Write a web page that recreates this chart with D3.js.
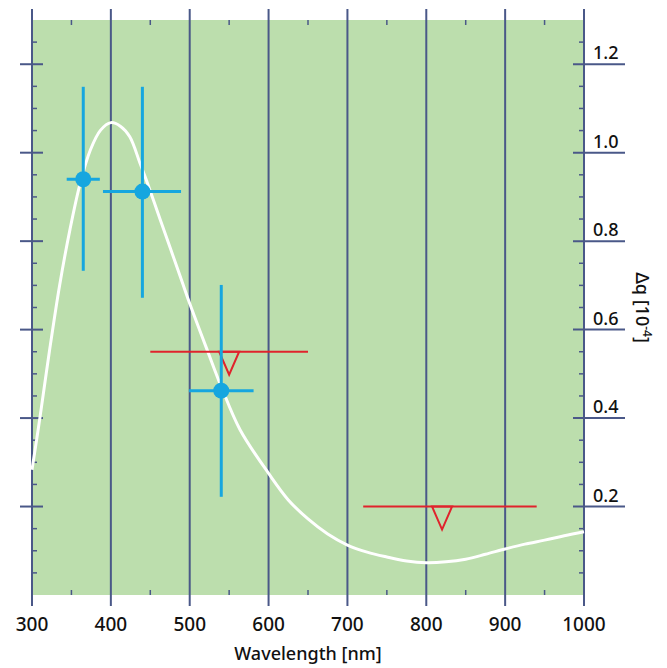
<!DOCTYPE html>
<html>
<head>
<meta charset="utf-8">
<script src="https://cdn.jsdelivr.net/npm/d3@7"></script>
<style>
  body { margin: 0; background: #fff; }
  svg text { font-family: "Noto Sans", "Open Sans", sans-serif; fill: #111; }
</style>
</head>
<body>
<div id="chart"></div>
<script>
const width = 667;
const height = 668;

const xDomain = [300, 1000];
const yDomain = [0, 1.3];

const xMajorTicks = [300, 400, 500, 600, 700, 800, 900, 1000];
const xMinorTicks = [350, 450, 550, 650, 750, 850, 950];
const yMajorTicks = [0.2, 0.4, 0.6, 0.8, 1.0, 1.2];
const yMinorTicks = [0.05, 0.1, 0.15, 0.25, 0.3, 0.35, 0.45, 0.5, 0.55, 0.65, 0.7, 0.75, 0.85, 0.9, 0.95, 1.05, 1.1, 1.15, 1.25];

// model curve
const curveWavelength = [300, 310, 322, 335, 348, 361, 374, 387, 400, 412, 424, 437, 445, 460, 475, 490, 500, 523, 540, 564, 600, 625, 650, 675, 700, 725, 750, 775, 800, 825, 850, 875, 900, 925, 950, 975, 1000];
const curveValue = [0.283, 0.40, 0.55, 0.70, 0.825, 0.93, 1.006, 1.051, 1.068, 1.06, 1.036, 0.976, 0.938, 0.862, 0.786, 0.71, 0.659, 0.55, 0.471, 0.373, 0.275, 0.215, 0.172, 0.138, 0.113, 0.097, 0.086, 0.077, 0.073, 0.075, 0.081, 0.092, 0.104, 0.115, 0.124, 0.134, 0.143];

// measurements
const measWavelength = [365, 440, 540];
const measValue = [0.94, 0.912, 0.462];
const measXLow = [344, 390, 499];
const measXHigh = [386, 489, 581];
const measYLow = [0.733, 0.672, 0.222];
const measYHigh = [1.149, 1.149, 0.701];

// upper limits
const limitWavelength = [550, 820];
const limitValue = [0.55, 0.2];
const limitXLow = [450, 720];
const limitXHigh = [650, 940];

const margin = {top: 20, right: 83, bottom: 73, left: 32};
const plotWidth = width - margin.left - margin.right;
const plotHeight = height - margin.top - margin.bottom;

const lineColor = "#4a5888";
const green = "#bcdead";
const blue = "#16a6df";
const red = "#e0232c";

const x = d3.scaleLinear().domain(xDomain).range([margin.left, margin.left + plotWidth]);
const y = d3.scaleLinear().domain(yDomain).range([margin.top + plotHeight, margin.top]);

const svg = d3.select("#chart")
  .append("svg")
  .attr("width", width)
  .attr("height", height);

svg.append("rect")
  .attr("x", x(300))
  .attr("y", y(1.3))
  .attr("width", x(1000) - x(300))
  .attr("height", y(0) - y(1.3))
  .attr("fill", green);

// vertical grid / axis lines
svg.append("g")
  .selectAll("line")
  .data(xMajorTicks)
  .enter()
  .append("line")
  .attr("x1", d => x(d))
  .attr("x2", d => x(d))
  .attr("y1", y(1.3) - 11)
  .attr("y2", y(0) + 11)
  .attr("stroke", lineColor)
  .attr("stroke-width", 2);

// minor x ticks, top and bottom
const xMinor = svg.append("g");
xMinor.selectAll(".top")
  .data(xMinorTicks)
  .enter()
  .append("line")
  .attr("x1", d => x(d))
  .attr("x2", d => x(d))
  .attr("y1", y(1.3))
  .attr("y2", y(1.3) + 5)
  .attr("stroke", lineColor)
  .attr("stroke-width", 1.5);
xMinor.selectAll(".bottom")
  .data(xMinorTicks)
  .enter()
  .append("line")
  .attr("x1", d => x(d))
  .attr("x2", d => x(d))
  .attr("y1", y(0) - 5)
  .attr("y2", y(0))
  .attr("stroke", lineColor)
  .attr("stroke-width", 1.5);

// y ticks, both sides
const yTicks = svg.append("g");
yTicks.selectAll(".lmaj")
  .data(yMajorTicks)
  .enter()
  .append("line")
  .attr("x1", x(300) - 12)
  .attr("x2", x(300) + 11)
  .attr("y1", d => y(d))
  .attr("y2", d => y(d))
  .attr("stroke", lineColor)
  .attr("stroke-width", 2);
yTicks.selectAll(".rmaj")
  .data(yMajorTicks)
  .enter()
  .append("line")
  .attr("x1", x(1000) - 11)
  .attr("x2", x(1000) + 41)
  .attr("y1", d => y(d))
  .attr("y2", d => y(d))
  .attr("stroke", lineColor)
  .attr("stroke-width", 2);
yTicks.selectAll(".lmin")
  .data(yMinorTicks)
  .enter()
  .append("line")
  .attr("x1", x(300))
  .attr("x2", x(300) + 5)
  .attr("y1", d => y(d))
  .attr("y2", d => y(d))
  .attr("stroke", lineColor)
  .attr("stroke-width", 1.5);
yTicks.selectAll(".rmin")
  .data(yMinorTicks)
  .enter()
  .append("line")
  .attr("x1", x(1000) - 5)
  .attr("x2", x(1000))
  .attr("y1", d => y(d))
  .attr("y2", d => y(d))
  .attr("stroke", lineColor)
  .attr("stroke-width", 1.5);

// tick labels
svg.append("g")
  .selectAll("text")
  .data(xMajorTicks)
  .enter()
  .append("text")
  .text(d => d)
  .attr("x", d => x(d))
  .attr("y", y(0) + 36)
  .attr("text-anchor", "middle")
  .attr("font-size", 19)
  .attr("font-weight", 500);

svg.append("g")
  .selectAll("text")
  .data(yMajorTicks)
  .enter()
  .append("text")
  .text(d => d.toFixed(1))
  .attr("x", x(1000) + 9)
  .attr("y", d => y(d) - 5)
  .attr("font-size", 18)
  .attr("font-weight", 500);

svg.append("text")
  .text("Wavelength [nm]")
  .attr("x", x(650))
  .attr("y", 660)
  .attr("text-anchor", "middle")
  .attr("font-size", 18)
  .attr("font-weight", 500);

const yTitle = svg.append("text")
  .attr("transform", `translate(636, ${y(0.65)}) rotate(90)`)
  .attr("text-anchor", "middle")
  .attr("font-size", 18)
  .attr("font-weight", 500);
yTitle.append("tspan").text("Δq [10");
yTitle.append("tspan").text("-4").attr("font-size", 12).attr("dy", -7);
yTitle.append("tspan").text("]").attr("dy", 7);

// model curve
const curvePoints = curveWavelength.map((w, i) => [w, curveValue[i]]);
svg.append("path")
  .datum(curvePoints)
  .attr("fill", "none")
  .attr("stroke", "#fff")
  .attr("stroke-width", 3)
  .attr("d", d3.line()
    .x(d => x(d[0]))
    .y(d => y(d[1]))
    .curve(d3.curveCatmullRom.alpha(0.5)));

// upper limits
const limits = svg.append("g")
  .selectAll("g")
  .data(limitWavelength)
  .enter()
  .append("g");
limits.append("line")
  .attr("x1", (d, i) => x(limitXLow[i]))
  .attr("x2", (d, i) => x(limitXHigh[i]))
  .attr("y1", (d, i) => y(limitValue[i]))
  .attr("y2", (d, i) => y(limitValue[i]))
  .attr("stroke", red)
  .attr("stroke-width", 2);
limits.append("path")
  .attr("d", (d, i) => {
    const cx = x(d);
    const cy = y(limitValue[i]);
    return `M${cx - 10},${cy} L${cx + 10},${cy} L${cx},${cy + 23} Z`;
  })
  .attr("fill", "none")
  .attr("stroke", red)
  .attr("stroke-width", 2);

// measurements
const meas = svg.append("g")
  .selectAll("g")
  .data(measWavelength)
  .enter()
  .append("g");
meas.append("line")
  .attr("x1", d => x(d))
  .attr("x2", d => x(d))
  .attr("y1", (d, i) => y(measYLow[i]))
  .attr("y2", (d, i) => y(measYHigh[i]))
  .attr("stroke", blue)
  .attr("stroke-width", 3);
meas.append("line")
  .attr("x1", (d, i) => x(measXLow[i]))
  .attr("x2", (d, i) => x(measXHigh[i]))
  .attr("y1", (d, i) => y(measValue[i]))
  .attr("y2", (d, i) => y(measValue[i]))
  .attr("stroke", blue)
  .attr("stroke-width", 3);
meas.append("circle")
  .attr("cx", d => x(d))
  .attr("cy", (d, i) => y(measValue[i]))
  .attr("r", 8)
  .attr("fill", blue);
</script>
</body>
</html>
